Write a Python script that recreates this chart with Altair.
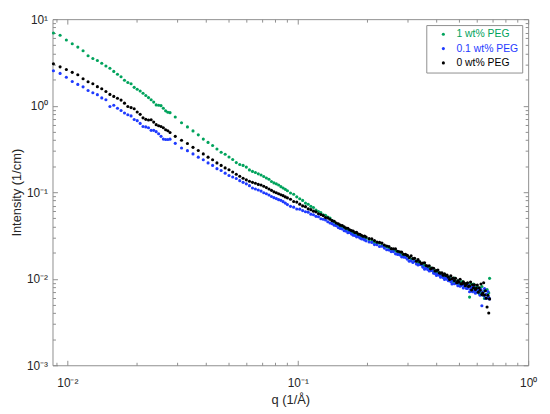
import altair as alt
import pandas as pd

FONT = "Liberation Sans, Arial, Helvetica, sans-serif"
SERIES = ["1 wt% PEG", "0.1 wt% PEG", "0 wt% PEG"]
COLORS = ["#00a35c", "#1f3bff", "#000000"]

q_low = [0.0087, 0.0093, 0.0099, 0.0105, 0.0111, 0.0117, 0.0123, 0.0129, 0.0135, 0.0141,
         0.0147, 0.0153, 0.0159, 0.0165, 0.0171, 0.0177, 0.0183, 0.0189, 0.0195, 0.0201,
         0.0207, 0.0213, 0.0219, 0.0225, 0.0231, 0.0237, 0.0243, 0.0249, 0.0255, 0.0261,
         0.0267, 0.0273, 0.0279]
q_mid = [0.0294, 0.0313, 0.0332, 0.0351, 0.0370, 0.0389, 0.0408, 0.0427, 0.0446, 0.0465,
         0.0484, 0.0503, 0.0522, 0.0541, 0.0560, 0.0579, 0.0598, 0.0617, 0.0636, 0.0655,
         0.0674, 0.0693, 0.0712, 0.0731, 0.0750, 0.0769, 0.0788, 0.0807, 0.0826, 0.0845,
         0.0864, 0.0883, 0.0902]
q_hi1 = [0.093, 0.096, 0.099, 0.102, 0.105, 0.108, 0.111, 0.114, 0.117, 0.120,
         0.123, 0.126, 0.129, 0.132, 0.135, 0.138, 0.141, 0.144, 0.147, 0.150,
         0.153, 0.156, 0.159, 0.162, 0.165, 0.168, 0.171, 0.174, 0.177, 0.180,
         0.183, 0.186, 0.189, 0.192, 0.195, 0.198]
q_hi2 = [0.204, 0.2096, 0.2152, 0.2208, 0.2264, 0.232, 0.2376, 0.2432, 0.2488, 0.2544,
         0.26, 0.2656, 0.2712, 0.2768, 0.2824, 0.288, 0.2936, 0.2992, 0.3048, 0.3104,
         0.316, 0.3216, 0.3272, 0.3328, 0.3384, 0.344, 0.3496, 0.3552, 0.3608, 0.3664,
         0.372, 0.3776, 0.3832, 0.3888, 0.3944, 0.4, 0.4056, 0.4112, 0.4168, 0.4224,
         0.428, 0.4336, 0.4392, 0.4448, 0.4504, 0.456, 0.4616, 0.4672, 0.4728, 0.4784,
         0.484, 0.4896, 0.4952, 0.5008, 0.5064, 0.512, 0.5176, 0.5232, 0.5288, 0.5344,
         0.54, 0.5456, 0.5512, 0.5568, 0.5624, 0.568, 0.5736, 0.5792, 0.5848, 0.5904,
         0.596, 0.6016, 0.6072, 0.6128, 0.6184, 0.624, 0.6296, 0.6352, 0.6408, 0.6464,
         0.652, 0.6576, 0.6632, 0.6688, 0.6744, 0.68]

peg1_low = [6.92, 6.52, 5.75, 5.19, 4.75, 4.32, 3.78, 3.51, 3.33, 3.09,
            2.87, 2.71, 2.49, 2.31, 2.16, 1.97, 1.85, 1.79, 1.63, 1.55,
            1.48, 1.39, 1.31, 1.24, 1.17, 1.10, 1.02, 1.01, 1.00, 0.933,
            0.871, 0.840, 0.830]
peg1_mid = [0.739, 0.634, 0.568, 0.511, 0.460, 0.411, 0.376, 0.346, 0.316, 0.290,
            0.275, 0.255, 0.239, 0.220, 0.209, 0.204, 0.195, 0.181, 0.174, 0.169,
            0.163, 0.158, 0.152, 0.146, 0.141, 0.133, 0.128, 0.125, 0.121, 0.116,
            0.112, 0.108, 0.104]
peg1_hi1 = [0.0979, 0.0947, 0.0884, 0.0841, 0.0804, 0.0749, 0.0725, 0.0687, 0.0665, 0.0620,
            0.0599, 0.0580, 0.0549, 0.0539, 0.0517, 0.0504, 0.0470, 0.0449, 0.0422, 0.0420,
            0.0405, 0.0391, 0.0390, 0.0374, 0.0367, 0.0354, 0.0352, 0.0337, 0.0336, 0.0327,
            0.0317, 0.0318, 0.0306, 0.0304, 0.0297, 0.0296]
peg1_hi2 = [0.0285, 0.0273, 0.0262, 0.0261, 0.0257, 0.0242, 0.0238, 0.0235, 0.0224, 0.0220,
            0.0210, 0.0209, 0.0206, 0.0197, 0.0190, 0.0189, 0.0182, 0.0183, 0.0175, 0.0167,
            0.0170, 0.0161, 0.0160, 0.0151, 0.0157, 0.0146, 0.0139, 0.0144, 0.0138, 0.0137,
            0.0130, 0.0134, 0.0126, 0.0120, 0.0124, 0.0119, 0.0115, 0.0118, 0.0109, 0.0110,
            0.0112, 0.0106, 0.0109, 0.0102, 0.0103, 0.0104, 0.00942, 0.00992, 0.00932, 0.0102,
            0.00929, 0.00896, 0.00945, 0.00852, 0.00915, 0.00865, 0.00927, 0.00859, 0.00821, 0.00856,
            0.00877, 0.00781, 0.00847, 0.00613, 0.00872, 0.00761, 0.00796, 0.00866, 0.00716, 0.00790,
            0.00733, 0.00806, 0.00741, 0.00674, 0.00771, 0.00690, 0.00813, 0.00644, 0.00712, 0.00592,
            0.00731, 0.00656, 0.00749, 0.00611, 0.00686, 0.0101]

peg01_low = [2.53, 2.36, 2.13, 1.90, 1.76, 1.65, 1.50, 1.41, 1.34, 1.23,
             1.17, 0.977, 1.01, 0.933, 0.879, 0.822, 0.785, 0.762, 0.692, 0.671,
             0.624, 0.575, 0.568, 0.556, 0.519, 0.519, 0.501, 0.473, 0.442, 0.411,
             0.407, 0.407, 0.410]
peg01_mid = [0.367, 0.324, 0.302, 0.277, 0.254, 0.237, 0.218, 0.204, 0.187, 0.178,
             0.166, 0.156, 0.150, 0.144, 0.136, 0.130, 0.125, 0.119, 0.112, 0.109,
             0.106, 0.103, 0.0987, 0.0959, 0.0929, 0.0891, 0.0865, 0.0843, 0.0820, 0.0805,
             0.0778, 0.0748, 0.0719]
peg01_hi1 = [0.0687, 0.0672, 0.0639, 0.0637, 0.0613, 0.0594, 0.0588, 0.0558, 0.0549, 0.0526,
             0.0520, 0.0494, 0.0487, 0.0477, 0.0455, 0.0440, 0.0433, 0.0416, 0.0409, 0.0390,
             0.0381, 0.0376, 0.0359, 0.0355, 0.0341, 0.0342, 0.0329, 0.0319, 0.0316, 0.0305,
             0.0306, 0.0296, 0.0289, 0.0288, 0.0281, 0.0274]
peg01_hi2 = [0.0266, 0.0263, 0.0248, 0.0247, 0.0236, 0.0237, 0.0226, 0.0216, 0.0215, 0.0206,
             0.0206, 0.0194, 0.0191, 0.0189, 0.0179, 0.0178, 0.0176, 0.0168, 0.0159, 0.0161,
             0.0154, 0.0160, 0.0148, 0.0144, 0.0146, 0.0145, 0.0136, 0.0129, 0.0134, 0.0128,
             0.0123, 0.0124, 0.0125, 0.0116, 0.0115, 0.0109, 0.0113, 0.0110, 0.0104, 0.0108,
             0.0103, 0.00980, 0.0102, 0.00986, 0.00947, 0.00990, 0.00927, 0.00872, 0.00962, 0.00874,
             0.00886, 0.00903, 0.00832, 0.00908, 0.00819, 0.00837, 0.00861, 0.00783, 0.00828, 0.00845,
             0.00773, 0.00775, 0.00839, 0.00707, 0.00755, 0.00794, 0.00709, 0.00813, 0.00730, 0.00681,
             0.00747, 0.00697, 0.00767, 0.00713, 0.00646, 0.00752, 0.00488, 0.00703, 0.00643, 0.00769,
             0.00600, 0.00661, 0.00595, 0.00711, 0.00610, 0.00583]

peg0_low = [3.05, 2.81, 2.62, 2.43, 2.28, 2.05, 1.89, 1.79, 1.66, 1.57,
            1.46, 1.35, 1.28, 1.22, 1.16, 1.07, 0.977, 0.951, 0.923, 0.845,
            0.794, 0.724, 0.695, 0.682, 0.687, 0.646, 0.603, 0.587, 0.575, 0.556,
            0.527, 0.513, 0.490]
peg0_mid = [0.442, 0.399, 0.366, 0.330, 0.303, 0.277, 0.254, 0.237, 0.218, 0.204,
            0.191, 0.182, 0.171, 0.161, 0.153, 0.145, 0.139, 0.134, 0.130, 0.127,
            0.123, 0.121, 0.117, 0.113, 0.109, 0.105, 0.101, 0.0987, 0.0961, 0.0934,
            0.0912, 0.0883, 0.0861]
peg0_hi1 = [0.0828, 0.0781, 0.0769, 0.0727, 0.0695, 0.0681, 0.0642, 0.0629, 0.0604, 0.0593,
            0.0563, 0.0551, 0.0537, 0.0510, 0.0505, 0.0487, 0.0469, 0.0462, 0.0440, 0.0432,
            0.0416, 0.0412, 0.0398, 0.0384, 0.0383, 0.0368, 0.0360, 0.0355, 0.0342, 0.0343,
            0.0328, 0.0327, 0.0318, 0.0310, 0.0312, 0.0304]
peg0_hi2 = [0.0291, 0.0289, 0.0276, 0.0265, 0.0263, 0.0258, 0.0245, 0.0239, 0.0236, 0.0223,
            0.0222, 0.0221, 0.0208, 0.0205, 0.0203, 0.0192, 0.0191, 0.0186, 0.0176, 0.0184,
            0.0171, 0.0172, 0.0159, 0.0166, 0.0157, 0.0150, 0.0152, 0.0153, 0.0142, 0.0140,
            0.0141, 0.0130, 0.0133, 0.0132, 0.0123, 0.0124, 0.0126, 0.0117, 0.0116, 0.0117,
            0.0110, 0.0114, 0.0109, 0.0110, 0.0104, 0.00980, 0.0108, 0.0100, 0.0102, 0.00952,
            0.0101, 0.00901, 0.00949, 0.00910, 0.00985, 0.00870, 0.00879, 0.00922, 0.00884, 0.00830,
            0.00877, 0.00896, 0.00815, 0.00824, 0.00915, 0.00741, 0.00852, 0.00783, 0.00850, 0.00753,
            0.00777, 0.00845, 0.00699, 0.00786, 0.00735, 0.00870, 0.00658, 0.00683, 0.00898, 0.00647,
            0.00727, 0.00594, 0.00471, 0.00645, 0.00402, 0.00585]

x_ticks = [0.009, 0.01, 0.02, 0.03, 0.04, 0.05, 0.06, 0.07, 0.08, 0.09,
           0.1, 0.2, 0.3, 0.4, 0.5, 0.6, 0.7, 0.8, 0.9, 1]
y_ticks = [0.001, 0.002, 0.003, 0.004, 0.005, 0.006, 0.007, 0.008, 0.009,
           0.01, 0.02, 0.03, 0.04, 0.05, 0.06, 0.07, 0.08, 0.09,
           0.1, 0.2, 0.3, 0.4, 0.5, 0.6, 0.7, 0.8, 0.9,
           1, 2, 3, 4, 5, 6, 7, 8, 9, 10]

q_all = q_low + q_mid + q_hi1 + q_hi2
series_vals = [
    peg1_low + peg1_mid + peg1_hi1 + peg1_hi2,
    peg01_low + peg01_mid + peg01_hi1 + peg01_hi2,
    peg0_low + peg0_mid + peg0_hi1 + peg0_hi2,
]
rows = []
for name, vals in zip(SERIES, series_vals):
    assert len(vals) == len(q_all), (name, len(vals), len(q_all))
    for qq, v in zip(q_all, vals):
        rows.append({"q": qq, "I": v, "series": name})
df = pd.DataFrame(rows)

AX = "#8f8f8f"
TXT = "#262626"
tick_expr = {"expr": "indexof([0.001, 0.01, 0.1, 1, 10], datum.value) >= 0 ? -5 : -3"}
x_lab = "datum.value == 0.01 ? '10⁻²' : datum.value == 0.1 ? '10⁻¹' : datum.value == 1 ? '10⁰' : ''"
y_lab = ("datum.value == 0.001 ? '10⁻³' : datum.value == 0.01 ? '10⁻²' : "
         "datum.value == 0.1 ? '10⁻¹' : datum.value == 1 ? '10⁰' : datum.value == 10 ? '10¹' : ''")
leg_color = {"expr": "datum.value == '1 wt% PEG' ? '#00a35c' : datum.value == '0.1 wt% PEG' ? '#1f3bff' : '#000000'"}

xs = alt.Scale(type="log", domain=[0.00862, 1], nice=False)
ys = alt.Scale(type="log", domain=[0.001, 10], nice=False)

points = alt.Chart(df).mark_circle(size=10, opacity=1).encode(
    x=alt.X("q:Q", scale=xs, axis=alt.Axis(
        orient="bottom", values=x_ticks, labelExpr=x_lab, tickSize=tick_expr,
        labelPadding=17, title="q (1/Å)", titlePadding=4, domain=False, grid=False,
        tickColor=AX, labelColor=TXT, titleColor=TXT, labelFontSize=12, titleFontSize=13,
        titleFontWeight="normal", labelFlush=False, labelOverlap=False)),
    y=alt.Y("I:Q", scale=ys, axis=alt.Axis(
        orient="left", values=y_ticks, labelExpr=y_lab, tickSize=tick_expr,
        labelPadding=10, title="Intensity (1/cm)", titlePadding=3, domain=False, grid=False,
        tickColor=AX, labelColor=TXT, titleColor=TXT, labelFontSize=12, titleFontSize=13,
        titleFontWeight="normal", labelFlush=False, labelOverlap=False)),
    color=alt.Color("series:N", scale=alt.Scale(domain=SERIES, range=COLORS),
                    legend=alt.Legend(title=None, orient="top-right", offset=6, padding=4,
                                      fillColor="white", strokeColor=AX, symbolType="circle",
                                      symbolSize=10, symbolStrokeWidth=0, labelFont=FONT,
                                      labelFontSize=10.5, labelColor=leg_color, rowPadding=3.5,
                                      symbolOffset=8, labelOffset=8)),
)

mirror = alt.Chart(df).mark_circle(size=1, opacity=0).encode(
    x=alt.X("q:Q", scale=xs, axis=alt.Axis(
        orient="top", values=x_ticks, labels=False, title=None, tickSize=tick_expr,
        domain=False, grid=False, tickColor=AX)),
    y=alt.Y("I:Q", scale=ys, axis=alt.Axis(
        orient="right", values=y_ticks, labels=False, title=None, tickSize=tick_expr,
        domain=False, grid=False, tickColor=AX)),
)

chart = alt.layer(mirror, points).resolve_axis(x="independent", y="independent").properties(
    width=481, height=350,
    padding={"left": 45, "top": 9, "right": 14, "bottom": 46},
    autosize=alt.AutoSizeParams(type="none"),
).configure_axis(labelFont=FONT, titleFont=FONT).configure_view(stroke=AX, strokeWidth=1)

chart.save("out.html", embed_options={"renderer": "svg", "actions": False})
